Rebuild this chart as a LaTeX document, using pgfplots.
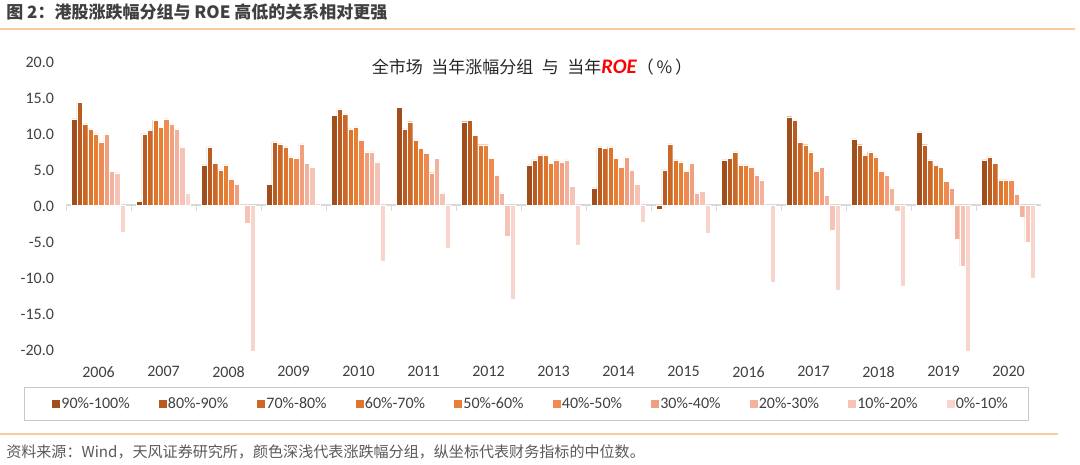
\documentclass[border=0pt]{standalone}
\usepackage{pgfplots}
\pgfplotsset{compat=1.18}
\usepackage{pgfplotstable}
\usepackage{fontspec}
\setmainfont{Carlito}
\newfontfamily\cjk{Noto Sans CJK SC}
\definecolor{c1}{HTML}{A04E1B}
\definecolor{c2}{HTML}{BA5C22}
\definecolor{c3}{HTML}{CB6827}
\definecolor{c4}{HTML}{DD752D}
\definecolor{c5}{HTML}{E88034}
\definecolor{c6}{HTML}{EE8A52}
\definecolor{c7}{HTML}{F0A07E}
\definecolor{c8}{HTML}{F2B29E}
\definecolor{c9}{HTML}{F5C4B6}
\definecolor{c10}{HTML}{F8D5CC}
\definecolor{txt}{HTML}{404040}
\definecolor{foot}{HTML}{595959}
\definecolor{rulec}{HTML}{F9C9A0}
\definecolor{zl}{HTML}{D9D9D9}
\definecolor{boxc}{HTML}{C8C8C8}

% columns: g1 = 90%-100% ... g10 = 0%-10%
\pgfplotstableread{
x  g1    g2    g3    g4    g5    g6    g7    g8    g9    g10
0  12.0  14.3  11.3  10.6  9.9   8.8   9.9   4.7   4.5   -3.8
1  0.5   9.9   10.4  11.8  10.9  12.0  11.3  10.6  8.1   1.7
2  5.6   8.1   5.8   4.9   5.6   3.6   2.9   0.0   -2.6  -20.3
3  2.9   8.8   8.5   8.1   6.7   6.5   8.5   5.8   5.3   0.3
4  12.5  13.4  12.7  10.6  10.9  9.0   7.4   7.4   6.0   -7.8
5  13.6  10.6  11.6  9.0   7.9   7.2   4.5   6.5   1.7   -6.0
6  11.6  11.8  9.7   8.4   8.4   6.5   4.2   1.7   -4.4  -13.1
7  5.6   6.3   7.0   7.0   5.8   6.3   6.0   6.3   2.6   -5.6
8  2.4   8.1   7.9   8.1   6.5   5.2   6.7   4.9   2.9   -2.4
9  -0.6  4.9   8.5   6.3   6.0   4.7   5.8   1.7   1.9   -3.9
10 6.3   6.5   7.4   5.6   5.6   5.3   4.2   3.5   0.0   -10.8
11 12.3  11.8  8.8   8.4   7.4   4.7   5.2   1.3   -3.5  -11.9
12 9.2   8.4   7.0   7.4   6.7   4.7   4.2   2.4   -0.8  -11.3
13 10.2  8.4   6.3   5.6   5.2   3.3   2.4   -4.7  -8.5  -20.3
14 6.3   6.7   5.8   3.5   3.5   3.5   1.5   -1.7  -5.2  -10.2
}\roetab

\begin{document}
\begin{tikzpicture}
\path[use as bounding box] (0,0) rectangle (810pt,-348pt);
% header
\node[anchor=west, inner sep=0pt, text=txt, font=\cjk\bfseries\fontsize{12.75}{14}\selectfont] at (4.5pt,-9pt) {图 2：港股涨跌幅分组与 ROE 高低的关系相对更强};
\draw[rulec, line width=1.5pt] (0pt,-21.75pt) -- (806pt,-21.75pt);
% title
\node[anchor=center, inner sep=0pt, text=black!85] at (399pt,-50.25pt) {{\cjk\fontsize{12.75}{14}\selectfont 全市场\hspace{0.5em}当年涨幅分组\hspace{0.5em}与\hspace{0.5em}当年}{\fontsize{15.5}{16}\selectfont\bfseries\itshape\color{red}ROE}{\cjk\fontsize{12.75}{14}\selectfont （\,\%\,）}};
% legend frame
\draw[boxc, line width=0.75pt] (18pt,-290.25pt) rectangle (771pt,-315.4pt);
% footer
\draw[rulec, line width=1.5pt] (0pt,-325.5pt) -- (793.5pt,-325.5pt);
\node[anchor=west, inner sep=0pt, text=foot, font=\cjk\fontsize{11.3}{13}\selectfont] at (4.5pt,-339pt) {资料来源：Wind，天风证券研究所，颜色深浅代表涨跌幅分组，纵坐标代表财务指标的中位数。};

\begin{axis}[
  at={(49.5pt,-266.85pt)}, anchor=south west,
  scale only axis, width=731.25pt, height=226.17pt,
  xmin=-0.5, xmax=14.5, ymin=-21, ymax=21,
  axis line style={draw=none},
  major tick length=0pt,
  xtick={0,1,2,3,4,5,6,7,8,9,10,11,12,13,14},
  xticklabels={2006,2007,2008,2009,2010,2011,2012,2013,2014,2015,2016,2017,2018,2019,2020},
  ytick={-20,-15,-10,-5,0,5,10,15,20},
  /pgf/number format/assume math mode=true,
  yticklabel style={/pgf/number format/fixed, /pgf/number format/fixed zerofill, /pgf/number format/precision=1, anchor=east, xshift=-5.5pt, yshift=-1pt},
  xticklabel style={anchor=center, yshift=-12pt},
  ticklabel style={text=txt, font=\fontsize{12}{14}\selectfont},
  ybar=0pt, bar width=0.083,
  legend columns=10,
  legend style={at={(-0.0154,-0.1598)}, anchor=west, draw=none, fill=none, inner sep=0pt,
    font=\fontsize{12}{14}\selectfont, text=txt,
    nodes={inner sep=0.5pt},
    /tikz/every even column/.append style={column sep=20.6pt}},
  mybar/.style={fill=#1, draw=white, line width=0.3pt,
    legend image code/.code={\path[fill=#1] (0pt,-3.4pt) rectangle (6.8pt,3.4pt);}},
]
\draw[zl, line width=1.3pt] (axis cs:-0.5,0) -- (axis cs:14.5,0);
\pgfplotsinvokeforeach{-0.5,0.5,1.5,2.5,3.5,4.5,5.5,6.5,7.5,8.5,9.5,10.5,11.5,12.5,13.5,14.5}{
  \draw[zl, line width=0.75pt] (axis cs:#1,0) -- ([yshift=-4.5pt]axis cs:#1,0);
}
\addplot[mybar=c1] table[x=x, y=g1] {\roetab};
\addplot[mybar=c2] table[x=x, y=g2] {\roetab};
\addplot[mybar=c3] table[x=x, y=g3] {\roetab};
\addplot[mybar=c4] table[x=x, y=g4] {\roetab};
\addplot[mybar=c5] table[x=x, y=g5] {\roetab};
\addplot[mybar=c6] table[x=x, y=g6] {\roetab};
\addplot[mybar=c7] table[x=x, y=g7] {\roetab};
\addplot[mybar=c8] table[x=x, y=g8] {\roetab};
\addplot[mybar=c9] table[x=x, y=g9] {\roetab};
\addplot[mybar=c10] table[x=x, y=g10] {\roetab};
\legend{90\%-100\%,80\%-90\%,70\%-80\%,60\%-70\%,50\%-60\%,40\%-50\%,30\%-40\%,20\%-30\%,10\%-20\%,0\%-10\%}
\end{axis}
\end{tikzpicture}
\end{document}
